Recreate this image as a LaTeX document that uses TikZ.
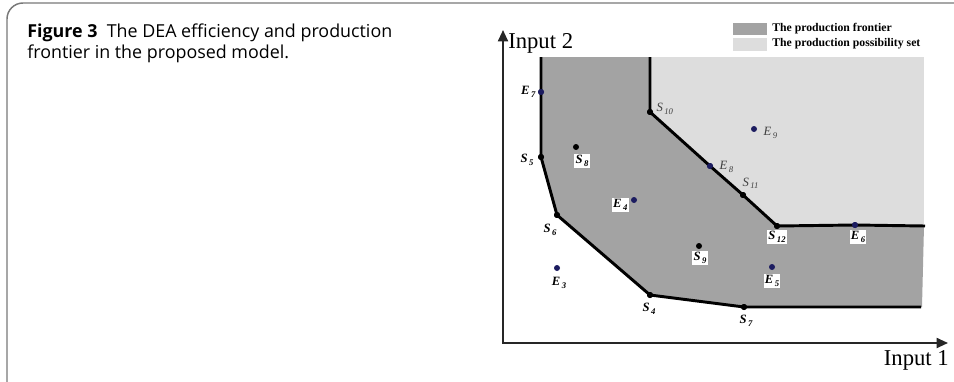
\documentclass[tikz,border=0pt]{standalone}
\usepackage{fontspec}
\setmainfont{Liberation Serif}
\newfontfamily\capfont{Open Sans}
\usetikzlibrary{arrows.meta}

\definecolor{frontgray}{RGB}{163,163,163}
\definecolor{possgray}{RGB}{221,221,221}
\definecolor{dotblue}{RGB}{28,28,96}
\definecolor{framegray}{RGB}{120,120,120}

\newcommand{\ptlab}[2]{#1\raisebox{-0.4ex}{\fontsize{6.5}{6.5}\selectfont\,#2}}

\tikzset{
  sdot/.style={circle,fill=black,inner sep=0pt,minimum size=4.5pt},
  edot/.style={circle,fill=dotblue,inner sep=0pt,minimum size=4.5pt},
  blab/.style={font=\fontsize{9.5}{9.5}\selectfont\bfseries\itshape,inner sep=1pt},
  boxlab/.style={blab,fill=white},
  ilab/.style={font=\fontsize{9.5}{9.5}\selectfont\itshape,text=black!75,inner sep=1pt},
  frontline/.style={line width=2.2pt,line join=round},
  axisline/.style={line width=1.4pt,black!85,-{Triangle[length=8.5pt,width=7.5pt]}},
}

\begin{document}
\begin{tikzpicture}[x=0.75pt,y=0.75pt,yscale=-1,xscale=1]
\useasboundingbox (0,0) rectangle (954,382);

%Shape: Frame
\draw [framegray, line width=1.1pt, rounded corners=12] (7,3) rectangle (990,400);

% Caption
\node [anchor=north west, inner sep=0pt, align=left, font=\capfont\fontsize{13.4}{15.75}\selectfont] (caption) at (27,24)
  {\textbf{Figure 3}\ \ The DEA efficiency and production\\frontier in the proposed model.};

%Shape: Production possibility set
\fill [possgray] (650,57) rectangle (924,226);
%Shape: Production frontier
\fill [frontgray] (541,57) -- (650,57) -- (650,112) -- (710,166) -- (743,195) -- (777,226) -- (924,226) -- (922,307) -- (744,307) -- (650,295) -- (557,215) -- (541,157) -- cycle;

% Legend
\fill [frontgray] (733,23) rectangle (767,35);
\fill [possgray] (733,38) rectangle (767,51);
\node [anchor=west, inner sep=0pt, font=\fontsize{8.8}{8.8}\selectfont\bfseries] (legfront) at (772,29) {The production frontier};
\node [anchor=west, inner sep=0pt, font=\fontsize{8.8}{8.8}\selectfont\bfseries] (legposs) at (772,44) {The production possibility set};

% Points
\node [edot] (E7) at (541,92) {};
\node [sdot] (S10) at (650,112) {};
\node [sdot] (S5) at (541,157) {};
\node [sdot] (S8) at (576,147) {};
\node [edot] (E9) at (754,129) {};
\node [edot] (E8) at (710,166) {};
\node [sdot] (S11) at (743,195) {};
\node [edot] (E4) at (634,200) {};
\node [sdot] (S6) at (557,215) {};
\node [sdot] (S12) at (777,226) {};
\node [edot] (E6) at (855,225) {};
\node [sdot] (S9) at (699,246) {};
\node [edot] (E5) at (772,267) {};
\node [edot] (E3) at (557,268) {};
\node [sdot] (S4) at (650,295) {};
\node [sdot] (S7) at (744,307) {};
\coordinate (leftTop) at (541,57);
\coordinate (rightTop) at (650,57);
\coordinate (lowEnd) at (921,307);
\coordinate (midEnd) at (925,226);

% Frontier lines
\draw [frontline] (leftTop) -- (E7.center) -- (S5.center) -- (S6.center) -- (S4.center) -- (S7.center) -- (lowEnd);
\draw [frontline] (rightTop) -- (S10.center) -- (E8.center) -- (S11.center) -- (S12.center) -- (E6.center) -- (midEnd);
% redraw dots on top
\foreach \p in {S10,S5,S11,S6,S12,S4,S7} \fill (\p) circle (3);
\foreach \p in {E7,E8,E6} \fill [dotblue] (\p) circle (3);

% Axes
\coordinate (origin) at (503,343);
\coordinate (ytip) at (503,30);
\coordinate (xtip) at (948,343);
\draw [axisline] (origin) -- (ytip);
\draw [axisline] (502,343) -- (xtip);
\node [anchor=west, inner sep=0pt, font=\fontsize{17}{17}\selectfont] (in2) at (508,43) {Input 2};
\node [anchor=east, inner sep=0pt, font=\fontsize{17}{17}\selectfont] (in1) at (949,360) {Input 1};

% Text Node
\node [blab, anchor=east] (lE7) at (537,92) {\ptlab{E}{7}};
\node [ilab, anchor=west] (lS10) at (655,109) {\ptlab{S}{10}};
\node [blab, anchor=east] (lS5) at (535,160) {\ptlab{S}{5}};
\node [boxlab, anchor=north] (lS8) at (582,154) {\ptlab{S}{8}};
\node [ilab, anchor=west] (lE9) at (762,133) {\ptlab{E}{9}};
\node [ilab, anchor=west] (lE8) at (718,167) {\ptlab{E}{8}};
\node [ilab, anchor=west] (lS11) at (741,183) {\ptlab{S}{11}};
\node [boxlab, anchor=east] (lE4) at (629,205) {\ptlab{E}{4}};
\node [blab, anchor=east] (lS6) at (558,230) {\ptlab{S}{6}};
\node [boxlab, anchor=north] (lS12) at (777,230) {\ptlab{S}{12}};
\node [boxlab, anchor=north] (lE6) at (858,230) {\ptlab{E}{6}};
\node [boxlab, anchor=north] (lS9) at (700,251) {\ptlab{S}{9}};
\node [boxlab, anchor=north] (lE5) at (772,274) {\ptlab{E}{5}};
\node [blab, anchor=north] (lE3) at (559,276) {\ptlab{E}{3}};
\node [blab, anchor=north] (lS4) at (649,302) {\ptlab{S}{4}};
\node [blab, anchor=north] (lS7) at (746,314) {\ptlab{S}{7}};

\end{tikzpicture}
\end{document}
